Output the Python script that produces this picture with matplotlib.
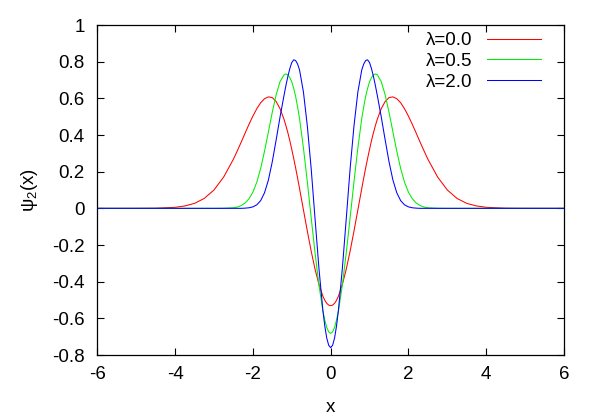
import matplotlib
matplotlib.use("Agg")
from matplotlib import pyplot as plt

plt.rcParams["font.family"] = ["Liberation Sans", "DejaVu Sans"]
plt.rcParams["mathtext.fontset"] = "custom"
plt.rcParams["mathtext.rm"] = "Liberation Sans"
plt.rcParams["mathtext.it"] = "Liberation Sans"
plt.rcParams["axes.unicode_minus"] = False

# values
x = [-6.0, -5.0, -4.5, -4.0, -3.75, -3.5, -3.25, -3.0, -2.75, -2.5,
     -2.4, -2.3, -2.2, -2.1, -2.0, -1.9, -1.8, -1.7, -1.6, -1.5,
     -1.4, -1.3, -1.2, -1.15, -1.1, -1.05, -1.0, -0.95, -0.9, -0.85,
     -0.8, -0.7, -0.6, -0.5, -0.4, -0.3, -0.2, -0.15, -0.1, -0.05,
     0.0,
     0.05, 0.1, 0.15, 0.2, 0.3, 0.4, 0.5, 0.6, 0.7, 0.8,
     0.85, 0.9, 0.95, 1.0, 1.05, 1.1, 1.15, 1.2, 1.3, 1.4,
     1.5, 1.6, 1.7, 1.8, 1.9, 2.0, 2.1, 2.2, 2.3, 2.4,
     2.5, 2.75, 3.0, 3.25, 3.5, 3.75, 4.0, 4.5, 5.0, 6.0]

psi_l00 = [0.0, 0.0001, 0.0008, 0.0055, 0.013, 0.027, 0.054, 0.100, 0.171, 0.268,
           0.314, 0.361, 0.410, 0.458, 0.503, 0.543, 0.576, 0.598, 0.608, 0.604,
           0.582, 0.543, 0.486, 0.451, 0.412, 0.369, 0.322, 0.272, 0.220, 0.165,
           0.108, -0.008, -0.124, -0.234, -0.333, -0.416, -0.479, -0.502, -0.518, -0.528,
           -0.531,
           -0.528, -0.518, -0.502, -0.479, -0.416, -0.333, -0.234, -0.124, -0.008, 0.108,
           0.165, 0.220, 0.272, 0.322, 0.369, 0.412, 0.451, 0.486, 0.543, 0.582,
           0.604, 0.608, 0.598, 0.576, 0.543, 0.503, 0.458, 0.410, 0.361, 0.314,
           0.268, 0.171, 0.100, 0.054, 0.027, 0.013, 0.0055, 0.0008, 0.0001, 0.0]

psi_l05 = [0.0, 0.0, 0.0, 0.0, 0.0, 0.0, 0.0, 0.0, 0.0005, 0.003,
           0.007, 0.015, 0.029, 0.052, 0.088, 0.142, 0.217, 0.312, 0.418, 0.525,
           0.620, 0.692, 0.728, 0.733, 0.728, 0.713, 0.690, 0.654, 0.610, 0.553,
           0.490, 0.330, 0.145, -0.052, -0.245, -0.420, -0.560, -0.610, -0.650, -0.674,
           -0.682,
           -0.674, -0.650, -0.610, -0.560, -0.420, -0.245, -0.052, 0.145, 0.330, 0.490,
           0.553, 0.610, 0.654, 0.690, 0.713, 0.728, 0.733, 0.728, 0.692, 0.620,
           0.525, 0.418, 0.312, 0.217, 0.142, 0.088, 0.052, 0.029, 0.015, 0.007,
           0.003, 0.0005, 0.0, 0.0, 0.0, 0.0, 0.0, 0.0, 0.0, 0.0]

psi_l20 = [0.0, 0.0, 0.0, 0.0, 0.0, 0.0, 0.0, 0.0, 0.0, 0.0,
           0.0, 0.0, 0.001, 0.003, 0.008, 0.019, 0.042, 0.085, 0.155, 0.255,
           0.375, 0.500, 0.615, 0.670, 0.720, 0.762, 0.795, 0.810, 0.806, 0.787,
           0.755, 0.635, 0.450, 0.215, -0.060, -0.330, -0.556, -0.643, -0.708, -0.747,
           -0.760,
           -0.747, -0.708, -0.643, -0.556, -0.330, -0.060, 0.215, 0.450, 0.635, 0.755,
           0.787, 0.806, 0.810, 0.795, 0.762, 0.720, 0.670, 0.615, 0.500, 0.375,
           0.255, 0.155, 0.085, 0.042, 0.019, 0.008, 0.003, 0.001, 0.0, 0.0,
           0.0, 0.0, 0.0, 0.0, 0.0, 0.0, 0.0, 0.0, 0.0, 0.0]

series = [("λ=0.0", psi_l00, "#ff0000"),
          ("λ=0.5", psi_l05, "#00ee00"),
          ("λ=2.0", psi_l20, "#0000ff")]

xticks = [-6, -4, -2, 0, 2, 4, 6]
yticks = [-0.8, -0.6, -0.4, -0.2, 0, 0.2, 0.4, 0.6, 0.8, 1]
yticklabels = ["-0.8", "-0.6", "-0.4", "-0.2", "0", "0.2", "0.4", "0.6", "0.8", "1"]

fs = 13.5

fig = plt.figure(figsize=(6, 4.2), dpi=100)
ax = fig.add_axes([97.3 / 600, 1 - 355 / 420, 466.7 / 600, 330 / 420])

for label, values, color in series:
    ax.plot(x, values, color=color, lw=0.75, label=label)

ax.set_xlim(-6, 6)
ax.set_ylim(-0.8, 1)
ax.set_xticks(xticks)
ax.set_xticklabels([str(t) for t in xticks])
ax.set_yticks(yticks)
ax.set_yticklabels(yticklabels)
ax.tick_params(direction="in", length=5, width=0.8, top=True, right=True,
               labelsize=fs, colors="black")
ax.tick_params(axis="x", pad=8)
ax.tick_params(axis="y", pad=9)
for sp in ax.spines.values():
    sp.set_linewidth(0.9)

ax.set_xlabel("x", fontsize=fs, va="center")
ax.xaxis.set_label_coords(0.5, -0.16)
ax.set_ylabel("ψ$_2$(x)", fontsize=fs, va="center")
ax.yaxis.set_label_coords(-0.146, 0.5)

ax.legend(loc="upper right", bbox_to_anchor=(541 / 600, 1 - 32 / 420),
          bbox_transform=fig.transFigure, frameon=False, markerfirst=False,
          fontsize=fs, handlelength=2.9, handletextpad=0.75, labelspacing=0.2,
          borderpad=0, borderaxespad=0)

fig.savefig("out.png", dpi=100)
